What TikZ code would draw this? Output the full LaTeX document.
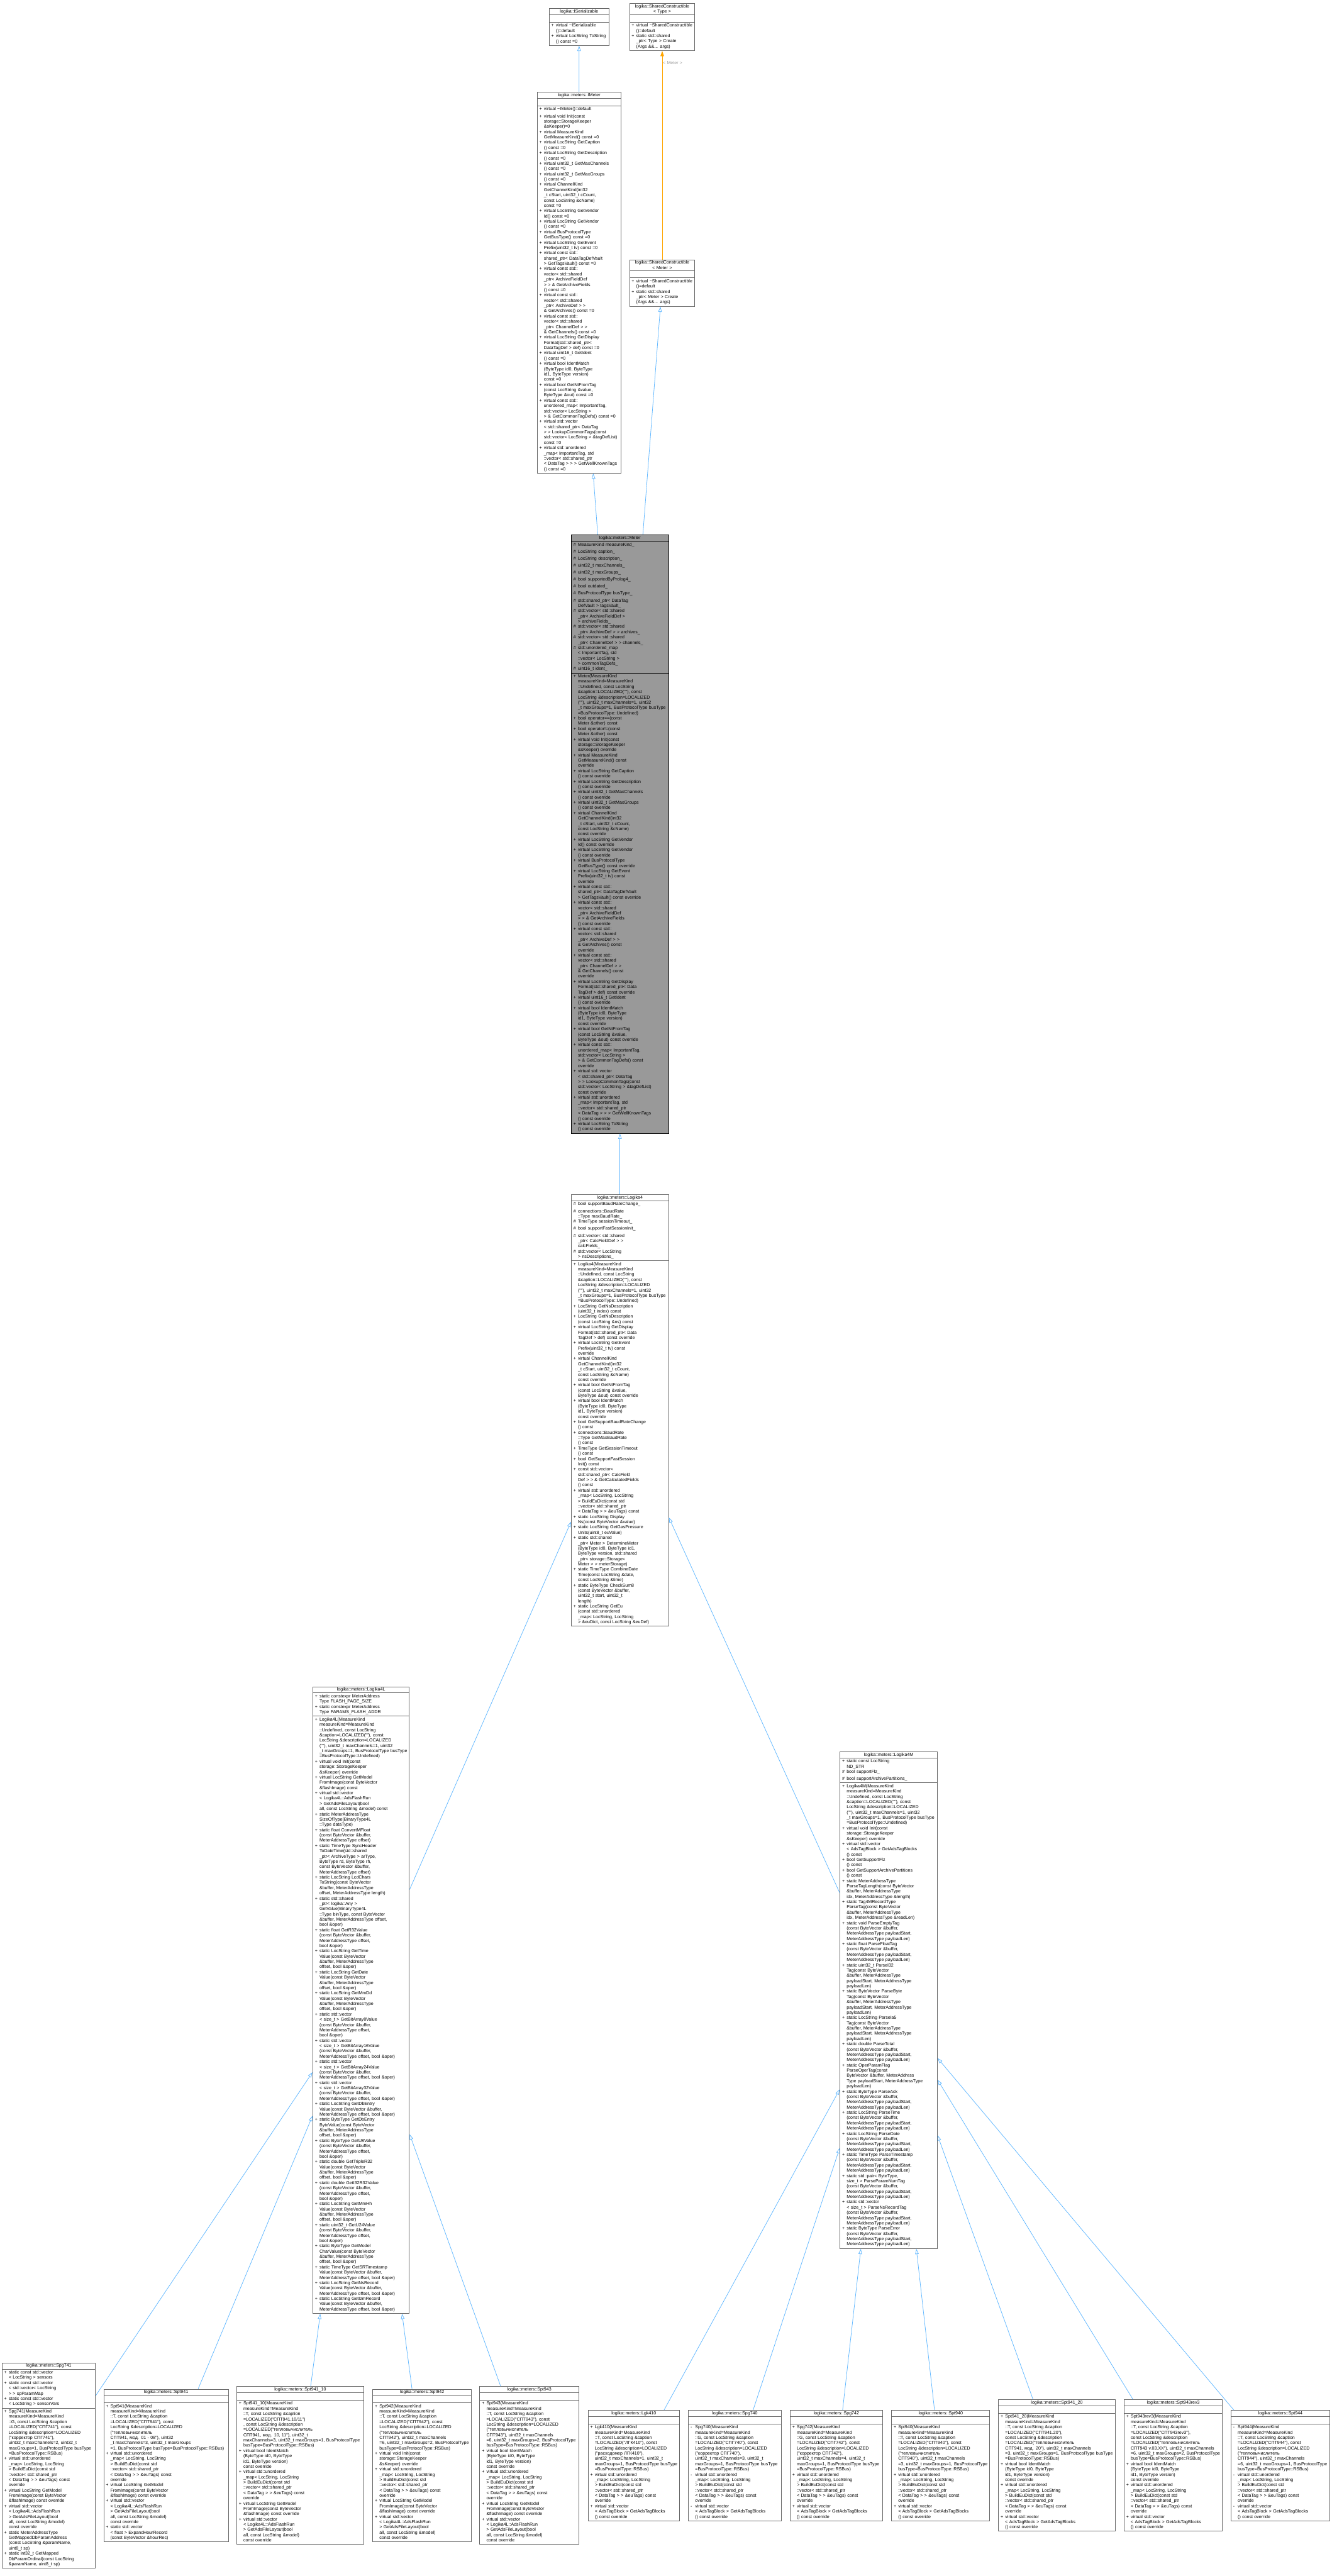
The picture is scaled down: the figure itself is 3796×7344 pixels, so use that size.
\documentclass[tikz,border=0pt]{standalone}
\usepackage{fontspec}
\setmainfont{Liberation Sans}[Ligatures=TeXOff]
\usepackage{tikz}
\usetikzlibrary{shapes.multipart,arrows.meta}
\definecolor{edgeblue}{HTML}{63B8FF}
\definecolor{tmplorange}{HTML}{FFA500}
\definecolor{lblgray}{HTML}{9A9A9A}
\definecolor{boxline}{HTML}{666666}
\definecolor{curfill}{HTML}{999999}
\newcommand{\cfont}{\fontsize{3.6}{4.27}\selectfont}
\newcommand{\mlist}[1]{\begin{tabular}{@{}l@{}}#1\end{tabular}}
\newcommand{\mbr}[2]{\makebox[3.7pt][l]{#1}\begin{tabular}[t]{@{}l@{}}#2\end{tabular}}
\newcommand{\ngap}{\\[1.4pt]}
\newcommand{\baseCtor}[1]{\mbr{+}{#1(MeasureKind\\measureKind=MeasureKind\\::Undefined, const LocString\\\&caption=LOCALIZED(""), const\\LocString \&description=LOCALIZED\\(""), uint32\_t maxChannels=1, uint32\\\_t maxGroups=1, BusProtocolType busType\\=BusProtocolType::Undefined)}}
\newcommand{\initOv}{\mbr{+}{virtual void Init(const\\storage::StorageKeeper\\\&sKeeper) override}}
\newcommand{\identOv}{\mbr{+}{virtual bool IdentMatch\\(ByteType id0, ByteType\\id1, ByteType version)\\const override}}
\newcommand{\chKind}{\mbr{+}{virtual ChannelKind\\GetChannelKind(int32\\\_t cStart, uint32\_t cCount,\\const LocString \&cName)\\const override}}
\newcommand{\evPrefix}{\mbr{+}{virtual LocString GetEvent\\Prefix(uint32\_t tv) const\\override}}
\newcommand{\dispFmt}{\mbr{+}{virtual LocString GetDisplay\\Format(std::shared\_ptr< Data\\TagDef > def) const override}}
\newcommand{\ntTag}{\mbr{+}{virtual bool GetNtFromTag\\(const LocString \&value,\\ByteType \&out) const override}}
\newcommand{\euDict}[1]{\mbr{#1}{virtual std::unordered\\\_map< LocString, LocString\\> BuildEuDict(const std\\::vector< std::shared\_ptr\\< DataTag > > \&euTags) const\\override}}
\newcommand{\modelImg}{\mbr{+}{virtual LocString GetModel\\FromImage(const ByteVector\\\&flashImage) const override}}
\newcommand{\adsLayout}{\mbr{+}{virtual std::vector\\< Logika4L::AdsFlashRun\\> GetAdsFileLayout(bool\\all, const LocString \&model)\\const override}}
\newcommand{\tagBlocks}[1]{\mbr{#1}{virtual std::vector\\< AdsTagBlock > GetAdsTagBlocks\\() const override}}
\newcommand{\obA}{(const ByteVector \&buffer,\\MeterAddressType offset,\\bool \&oper)}
\newcommand{\obB}{(const ByteVector\\\&buffer, MeterAddressType\\offset, bool \&oper)}
\newcommand{\obC}{(const ByteVector \&buffer,\\MeterAddressType offset, bool \&oper)}
\newcommand{\plArgs}{(const ByteVector \&buffer,\\MeterAddressType payloadStart,\\MeterAddressType payloadLen)}
\newcommand{\plTag}{Tag(const ByteVector\\\&buffer, MeterAddressType\\payloadStart, MeterAddressType\\payloadLen)}
\begin{document}
\begin{tikzpicture}[x=0.01cm, y=-0.01cm, font=\cfont,
  cls/.style={rectangle split, rectangle split parts=3, draw=boxline, fill=white,
    line width=0.5pt, text width=#1, inner xsep=0.06cm, inner ysep=0.6pt, anchor=west},
  cur/.style={cls=#1, draw=black, fill=curfill},
  inh/.style={draw=edgeblue, line width=0.4pt, -{Triangle[open, length=4.3pt, width=2.9pt]}},
  tmpl/.style={draw=tmplorange, line width=0.4pt, -{Triangle[length=4.3pt, width=2.9pt]}},
  lbl/.style={text=lblgray, inner sep=0.02cm}]
\useasboundingbox (0,0) rectangle (3796,7344);
\node[cls=1.58cm] (ser) at (1565,77) {\centering logika::ISerializable\par
  \nodepart{two}\strut
  \nodepart{three}\mlist{\mbr{+}{virtual \textasciitilde ISerializable\\()=default}\ngap
    \mbr{+}{virtual LocString ToString\\() const =0}}};
\node[cls=1.74cm] (sct) at (1794,77) {\centering logika::SharedConstructible\\< Type >\par
  \nodepart{two}\strut
  \nodepart{three}\mlist{\mbr{+}{virtual \textasciitilde SharedConstructible\\()=default}\ngap
    \mbr{+}{static std::shared\\\_ptr< Type > Create\\(Args \&\&... args)}}};
\node[cls=2.26cm] (imeter) at (1531,806) {\centering logika::meters::IMeter\par
  \nodepart{two}\strut
  \nodepart{three}\mlist{%
    \mbr{+}{virtual \textasciitilde IMeter()=default}\ngap
    \mbr{+}{virtual void Init(const\\storage::StorageKeeper\\\&sKeeper)=0}\ngap
    \mbr{+}{virtual MeasureKind\\GetMeasureKind() const =0}\ngap
    \mbr{+}{virtual LocString GetCaption\\() const =0}\ngap
    \mbr{+}{virtual LocString GetDescription\\() const =0}\ngap
    \mbr{+}{virtual uint32\_t GetMaxChannels\\() const =0}\ngap
    \mbr{+}{virtual uint32\_t GetMaxGroups\\() const =0}\ngap
    \mbr{+}{virtual ChannelKind\\GetChannelKind(int32\\\_t cStart, uint32\_t cCount,\\const LocString \&cName)\\const =0}\ngap
    \mbr{+}{virtual LocString GetVendor\\Id() const =0}\ngap
    \mbr{+}{virtual LocString GetVendor\\() const =0}\ngap
    \mbr{+}{virtual BusProtocolType\\GetBusType() const =0}\ngap
    \mbr{+}{virtual LocString GetEvent\\Prefix(uint32\_t tv) const =0}\ngap
    \mbr{+}{virtual const std::\\shared\_ptr< DataTagDefVault\\> GetTagsVault() const =0}\ngap
    \mbr{+}{virtual const std::\\vector< std::shared\\\_ptr< ArchiveFieldDef\\> > \& GetArchiveFields\\() const =0}\ngap
    \mbr{+}{virtual const std::\\vector< std::shared\\\_ptr< ArchiveDef > >\\\& GetArchives() const =0}\ngap
    \mbr{+}{virtual const std::\\vector< std::shared\\\_ptr< ChannelDef > >\\\& GetChannels() const =0}\ngap
    \mbr{+}{virtual LocString GetDisplay\\Format(std::shared\_ptr<\\DataTagDef > def) const =0}\ngap
    \mbr{+}{virtual uint16\_t GetIdent\\() const =0}\ngap
    \mbr{+}{virtual bool IdentMatch\\(ByteType id0, ByteType\\id1, ByteType version)\\const =0}\ngap
    \mbr{+}{virtual bool GetNtFromTag\\(const LocString \&value,\\ByteType \&out) const =0}\ngap
    \mbr{+}{virtual const std::\\unordered\_map< ImportantTag,\\std::vector< LocString >\\> \& GetCommonTagDefs() const =0}\ngap
    \mbr{+}{virtual std::vector\\< std::shared\_ptr< DataTag\\> > LookupCommonTags(const\\std::vector< LocString > \&tagDefList)\\const =0}\ngap
    \mbr{+}{virtual std::unordered\\\_map< ImportantTag, std\\::vector< std::shared\_ptr\\< DataTag > > > GetWellKnownTags\\() const =0}}};
\node[cls=1.74cm] (scm) at (1794,807) {\centering logika::SharedConstructible\\< Meter >\par
  \nodepart{two}\strut
  \nodepart{three}\mlist{\mbr{+}{virtual \textasciitilde SharedConstructible\\()=default}\ngap
    \mbr{+}{static std::shared\\\_ptr< Meter > Create\\(Args \&\&... args)}}};
\node[cur=2.65cm] (meter) at (1628,2378) {\centering logika::meters::Meter\par
  \nodepart{two}\mlist{%
    \mbr{\#}{MeasureKind measureKind\_}\ngap
    \mbr{\#}{LocString caption\_}\ngap
    \mbr{\#}{LocString description\_}\ngap
    \mbr{\#}{uint32\_t maxChannels\_}\ngap
    \mbr{\#}{uint32\_t maxGroups\_}\ngap
    \mbr{\#}{bool supportedByProlog4\_}\ngap
    \mbr{\#}{bool outdated\_}\ngap
    \mbr{\#}{BusProtocolType busType\_}\ngap
    \mbr{\#}{std::shared\_ptr< DataTag\\DefVault > tagsVault\_}\ngap
    \mbr{\#}{std::vector< std::shared\\\_ptr< ArchiveFieldDef >\\> archiveFields\_}\ngap
    \mbr{\#}{std::vector< std::shared\\\_ptr< ArchiveDef > > archives\_}\ngap
    \mbr{\#}{std::vector< std::shared\\\_ptr< ChannelDef > > channels\_}\ngap
    \mbr{\#}{std::unordered\_map\\< ImportantTag, std\\::vector< LocString >\\> commonTagDefs\_}\ngap
    \mbr{\#}{uint16\_t ident\_}}
  \nodepart{three}\mlist{%
    \baseCtor{Meter}\ngap
    \mbr{+}{bool operator==(const\\Meter \&other) const}\ngap
    \mbr{+}{bool operator!=(const\\Meter \&other) const}\ngap
    \initOv\ngap
    \mbr{+}{virtual MeasureKind\\GetMeasureKind() const\\override}\ngap
    \mbr{+}{virtual LocString GetCaption\\() const override}\ngap
    \mbr{+}{virtual LocString GetDescription\\() const override}\ngap
    \mbr{+}{virtual uint32\_t GetMaxChannels\\() const override}\ngap
    \mbr{+}{virtual uint32\_t GetMaxGroups\\() const override}\ngap
    \chKind\ngap
    \mbr{+}{virtual LocString GetVendor\\Id() const override}\ngap
    \mbr{+}{virtual LocString GetVendor\\() const override}\ngap
    \mbr{+}{virtual BusProtocolType\\GetBusType() const override}\ngap
    \evPrefix\ngap
    \mbr{+}{virtual const std::\\shared\_ptr< DataTagDefVault\\> GetTagsVault() const override}\ngap
    \mbr{+}{virtual const std::\\vector< std::shared\\\_ptr< ArchiveFieldDef\\> > \& GetArchiveFields\\() const override}\ngap
    \mbr{+}{virtual const std::\\vector< std::shared\\\_ptr< ArchiveDef > >\\\& GetArchives() const\\override}\ngap
    \mbr{+}{virtual const std::\\vector< std::shared\\\_ptr< ChannelDef > >\\\& GetChannels() const\\override}\ngap
    \dispFmt\ngap
    \mbr{+}{virtual uint16\_t GetIdent\\() const override}\ngap
    \identOv\ngap
    \ntTag\ngap
    \mbr{+}{virtual const std::\\unordered\_map< ImportantTag,\\std::vector< LocString >\\> \& GetCommonTagDefs() const\\override}\ngap
    \mbr{+}{virtual std::vector\\< std::shared\_ptr< DataTag\\> > LookupCommonTags(const\\std::vector< LocString > \&tagDefList)\\const override}\ngap
    \mbr{+}{virtual std::unordered\\\_map< ImportantTag, std\\::vector< std::shared\_ptr\\< DataTag > > > GetWellKnownTags\\() const override}\ngap
    \mbr{+}{virtual LocString ToString\\() const override}}};
\node[cls=2.65cm] (l4) at (1628,4021) {\centering logika::meters::Logika4\par
  \nodepart{two}\mlist{%
    \mbr{\#}{bool supportBaudRateChange\_}\ngap
    \mbr{\#}{connections::BaudRate\\::Type maxBaudRate\_}\ngap
    \mbr{\#}{TimeType sessionTimeout\_}\ngap
    \mbr{\#}{bool supportFastSessionInit\_}\ngap
    \mbr{\#}{std::vector< std::shared\\\_ptr< CalcFieldDef > >\\calcFields\_}\ngap
    \mbr{\#}{std::vector< LocString\\> nsDescriptions\_}}
  \nodepart{three}\mlist{%
    \baseCtor{Logika4}\ngap
    \mbr{+}{LocString GetNsDescription\\(uint32\_t index) const}\ngap
    \mbr{+}{LocString GetNsDescription\\(const LocString \&ns) const}\ngap
    \dispFmt\ngap
    \evPrefix\ngap
    \chKind\ngap
    \ntTag\ngap
    \identOv\ngap
    \mbr{+}{bool GetSupportBaudRateChange\\() const}\ngap
    \mbr{+}{connections::BaudRate\\::Type GetMaxBaudRate\\() const}\ngap
    \mbr{+}{TimeType GetSessionTimeout\\() const}\ngap
    \mbr{+}{bool GetSupportFastSession\\Init() const}\ngap
    \mbr{+}{const std::vector<\\std::shared\_ptr< CalcField\\Def > > \& GetCalculatedFields\\() const}\ngap
    \mbr{+}{virtual std::unordered\\\_map< LocString, LocString\\> BuildEuDict(const std\\::vector< std::shared\_ptr\\< DataTag > > \&euTags) const}\ngap
    \mbr{+}{static LocString Display\\Ns(const ByteVector \&value)}\ngap
    \mbr{+}{static LocString GetGasPressure\\Units(uint8\_t euValue)}\ngap
    \mbr{+}{static std::shared\\\_ptr< Meter > DetermineMeter\\(ByteType id0, ByteType id1,\\ByteType version, std::shared\\\_ptr< storage::Storage<\\Meter > > meterStorage)}\ngap
    \mbr{+}{static TimeType CombineDate\\Time(const LocString \&date,\\const LocString \&time)}\ngap
    \mbr{+}{static ByteType CheckSum8\\(const ByteVector \&buffer,\\uint32\_t start, uint32\_t\\length)}\ngap
    \mbr{+}{static LocString GetEu\\(const std::unordered\\\_map< LocString, LocString\\> \&euDict, const LocString \&euDef)}}};
\node[cls=2.63cm] (l4l) at (891,5702) {\centering logika::meters::Logika4L\par
  \nodepart{two}\mlist{%
    \mbr{+}{static constexpr MeterAddress\\Type FLASH\_PAGE\_SIZE}\ngap
    \mbr{+}{static constexpr MeterAddress\\Type PARAMS\_FLASH\_ADDR}}
  \nodepart{three}\mlist{%
    \baseCtor{Logika4L}\ngap
    \initOv\ngap
    \mbr{+}{virtual LocString GetModel\\FromImage(const ByteVector\\\&flashImage) const}\ngap
    \mbr{+}{virtual std::vector\\< Logika4L::AdsFlashRun\\> GetAdsFileLayout(bool\\all, const LocString \&model) const}\ngap
    \mbr{+}{static MeterAddressType\\SizeOfType(BinaryType4L\\::Type dataType)}\ngap
    \mbr{+}{static float ConvertMFloat\\(const ByteVector \&buffer,\\MeterAddressType offset)}\ngap
    \mbr{+}{static TimeType SyncHeader\\ToDateTime(std::shared\\\_ptr< ArchiveType > arType,\\ByteType rd, ByteType rh,\\const ByteVector \&buffer,\\MeterAddressType offset)}\ngap
    \mbr{+}{static LocString LcdChars\\ToString(const ByteVector\\\&buffer, MeterAddressType\\offset, MeterAddressType length)}\ngap
    \mbr{+}{static std::shared\\\_ptr< logika::Any >\\GetValue(BinaryType4L\\::Type binType, const ByteVector\\\&buffer, MeterAddressType offset,\\bool \&oper)}\ngap
    \mbr{+}{static float GetR32Value\\\obA}\ngap
    \mbr{+}{static LocString GetTime\\Value\obB}\ngap
    \mbr{+}{static LocString GetDate\\Value\obB}\ngap
    \mbr{+}{static LocString GetMmDd\\Value\obB}\ngap
    \mbr{+}{static std::vector\\< size\_t > GetBitArray8Value\\\obA}\ngap
    \mbr{+}{static std::vector\\< size\_t > GetBitArray16Value\\\obC}\ngap
    \mbr{+}{static std::vector\\< size\_t > GetBitArray24Value\\\obC}\ngap
    \mbr{+}{static std::vector\\< size\_t > GetBitArray32Value\\\obC}\ngap
    \mbr{+}{static LocString GetDbEntry\\Value\obC}\ngap
    \mbr{+}{static ByteType GetDbEntry\\ByteValue\obB}\ngap
    \mbr{+}{static ByteType GetU8Value\\\obA}\ngap
    \mbr{+}{static double GetTripleR32\\Value\obB}\ngap
    \mbr{+}{static double GetI32R32Value\\\obA}\ngap
    \mbr{+}{static LocString GetMmHh\\Value\obB}\ngap
    \mbr{+}{static uint32\_t GetU24Value\\\obA}\ngap
    \mbr{+}{static ByteType GetModel\\CharValue\obB}\ngap
    \mbr{+}{static TimeType GetSRTimestamp\\Value\obC}\ngap
    \mbr{+}{static LocString GetNsRecord\\Value\obC}\ngap
    \mbr{+}{static LocString GetIzmRecord\\Value\obC}}};
\node[cls=2.65cm] (l4m) at (2394,5702) {\centering logika::meters::Logika4M\par
  \nodepart{two}\mlist{%
    \mbr{+}{static const LocString\\ND\_STR}\ngap
    \mbr{\#}{bool supportFlz\_}\ngap
    \mbr{\#}{bool supportArchivePartitions\_}}
  \nodepart{three}\mlist{%
    \baseCtor{Logika4M}\ngap
    \initOv\ngap
    \mbr{+}{virtual std::vector\\< AdsTagBlock > GetAdsTagBlocks\\() const}\ngap
    \mbr{+}{bool GetSupportFlz\\() const}\ngap
    \mbr{+}{bool GetSupportArchivePartitions\\() const}\ngap
    \mbr{+}{static MeterAddressType\\ParseTagLength(const ByteVector\\\&buffer, MeterAddressType\\idx, MeterAddressType \&length)}\ngap
    \mbr{+}{static Tag4MRecordType\\ParseTag(const ByteVector\\\&buffer, MeterAddressType\\idx, MeterAddressType \&readLen)}\ngap
    \mbr{+}{static void ParseEmptyTag\\\plArgs}\ngap
    \mbr{+}{static float ParseFloatTag\\\plArgs}\ngap
    \mbr{+}{static uint32\_t ParseI32\\\plTag}\ngap
    \mbr{+}{static ByteVector ParseByte\\\plTag}\ngap
    \mbr{+}{static LocString ParseIa5\\\plTag}\ngap
    \mbr{+}{static double ParseTotal\\\plArgs}\ngap
    \mbr{+}{static OperParamFlag\\ParseOperTag(const\\ByteVector \&buffer, MeterAddress\\Type payloadStart, MeterAddressType\\payloadLen)}\ngap
    \mbr{+}{static ByteType ParseAck\\\plArgs}\ngap
    \mbr{+}{static LocString ParseTime\\\plArgs}\ngap
    \mbr{+}{static LocString ParseDate\\\plArgs}\ngap
    \mbr{+}{static TimeType ParseTimestamp\\\plArgs}\ngap
    \mbr{+}{static std::pair< ByteType,\\size\_t > ParseParamNumTag\\\plArgs}\ngap
    \mbr{+}{static std::vector\\< size\_t > ParseNsRecordTag\\\plArgs}\ngap
    \mbr{+}{static ByteType ParseError\\\plArgs}}};
\node[cls=2.54cm] (spg741) at (5,7029) {\centering logika::meters::Spg741\par
  \nodepart{two}\mlist{%
    \mbr{+}{static const std::vector\\< LocString > sensors}\ngap
    \mbr{+}{static const std::vector\\< std::vector< LocString\\> > spParamMap}\ngap
    \mbr{+}{static const std::vector\\< LocString > sensorVars}}
  \nodepart{three}\mlist{%
    \mbr{+}{Spg741(MeasureKind\\measureKind=MeasureKind\\::G, const LocString \&caption\\=LOCALIZED("СПГ741"), const\\LocString \&description=LOCALIZED\\("корректор СПГ741"),\\uint32\_t maxChannels=2, uint32\_t\\maxGroups=1, BusProtocolType busType\\=BusProtocolType::RSBus)}\ngap
    \euDict{+}\ngap
    \modelImg\ngap
    \adsLayout\ngap
    \mbr{+}{static MeterAddressType\\GetMappedDbParamAddress\\(const LocString \&paramName,\\uint8\_t sp)}\ngap
    \mbr{+}{static int32\_t GetMapped\\DbParamOrdinal(const LocString\\\&paramName, uint8\_t sp)}}};
\node[cls=3.43cm] (spt941) at (295,7029) {\centering logika::meters::Spt941\par
  \nodepart{two}\strut
  \nodepart{three}\mlist{%
    \mbr{+}{Spt941(MeasureKind\\measureKind=MeasureKind\\::T, const LocString \&caption\\=LOCALIZED("СПТ941"), const\\LocString \&description=LOCALIZED\\("тепловычислитель\\СПТ941, мод. 01 - 08"), uint32\\\_t maxChannels=3, uint32\_t maxGroups\\=1, BusProtocolType busType=BusProtocolType::RSBus)}\ngap
    \euDict{+}\ngap
    \modelImg\ngap
    \adsLayout\ngap
    \mbr{+}{static std::vector\\< float > ExpandHourRecord\\(const ByteVector \&hourRec)}}};
\node[cls=3.50cm] (spt94110) at (674,7029) {\centering logika::meters::Spt941\_10\par
  \nodepart{two}\strut
  \nodepart{three}\mlist{%
    \mbr{+}{Spt941\_10(MeasureKind\\measureKind=MeasureKind\\::T, const LocString \&caption\\=LOCALIZED("СПТ941.10/11")\\, const LocString \&description\\=LOCALIZED("тепловычислитель\\СПТ941, мод. 10, 11"), uint32\_t\\maxChannels=3, uint32\_t maxGroups=1, BusProtocolType\\busType=BusProtocolType::RSBus)}\ngap
    \identOv\ngap
    \euDict{+}\ngap
    \modelImg\ngap
    \adsLayout}};
\node[cls=2.69cm] (spt942) at (1062,7029) {\centering logika::meters::Spt942\par
  \nodepart{two}\strut
  \nodepart{three}\mlist{%
    \mbr{+}{Spt942(MeasureKind\\measureKind=MeasureKind\\::T, const LocString \&caption\\=LOCALIZED("СПТ942"), const\\LocString \&description=LOCALIZED\\("тепловычислитель\\СПТ942"), uint32\_t maxChannels\\=6, uint32\_t maxGroups=2, BusProtocolType\\busType=BusProtocolType::RSBus)}\ngap
    \initOv\ngap
    \euDict{+}\ngap
    \modelImg\ngap
    \adsLayout}};
\node[cls=2.70cm] (spt943) at (1367,7029) {\centering logika::meters::Spt943\par
  \nodepart{two}\strut
  \nodepart{three}\mlist{%
    \mbr{+}{Spt943(MeasureKind\\measureKind=MeasureKind\\::T, const LocString \&caption\\=LOCALIZED("СПТ943"), const\\LocString \&description=LOCALIZED\\("тепловычислитель\\СПТ943"), uint32\_t maxChannels\\=6, uint32\_t maxGroups=2, BusProtocolType\\busType=BusProtocolType::RSBus)}\ngap
    \identOv\ngap
    \euDict{+}\ngap
    \modelImg\ngap
    \adsLayout}};
\node[cls=2.48cm] (lgk410) at (1676,7029) {\centering logika::meters::Lgk410\par
  \nodepart{two}\strut
  \nodepart{three}\mlist{%
    \mbr{+}{Lgk410(MeasureKind\\measureKind=MeasureKind\\::T, const LocString \&caption\\=LOCALIZED("ЛГК410"), const\\LocString \&description=LOCALIZED\\("расходомер ЛГК410"),\\uint32\_t maxChannels=1, uint32\_t\\maxGroups=1, BusProtocolType busType\\=BusProtocolType::RSBus)}\ngap
    \euDict{+}\ngap
    \tagBlocks{+}}};
\node[cls=2.52cm] (spg740) at (1962,7029) {\centering logika::meters::Spg740\par
  \nodepart{two}\strut
  \nodepart{three}\mlist{%
    \mbr{-}{Spg740(MeasureKind\\measureKind=MeasureKind\\::G, const LocString \&caption\\=LOCALIZED("СПГ740"), const\\LocString \&description=LOCALIZED\\("корректор СПГ740"),\\uint32\_t maxChannels=3, uint32\_t\\maxGroups=1, BusProtocolType busType\\=BusProtocolType::RSBus)}\ngap
    \euDict{-}\ngap
    \tagBlocks{-}}};
\node[cls=2.51cm] (spg742) at (2252,7029) {\centering logika::meters::Spg742\par
  \nodepart{two}\strut
  \nodepart{three}\mlist{%
    \mbr{+}{Spg742(MeasureKind\\measureKind=MeasureKind\\::G, const LocString \&caption\\=LOCALIZED("СПГ742"), const\\LocString \&description=LOCALIZED\\("корректор СПГ742"),\\uint32\_t maxChannels=4, uint32\_t\\maxGroups=1, BusProtocolType busType\\=BusProtocolType::RSBus)}\ngap
    \euDict{+}\ngap
    \tagBlocks{+}}};
\node[cls=2.68cm] (spt940) at (2541,7029) {\centering logika::meters::Spt940\par
  \nodepart{two}\strut
  \nodepart{three}\mlist{%
    \mbr{+}{Spt940(MeasureKind\\measureKind=MeasureKind\\::T, const LocString \&caption\\=LOCALIZED("СПТ940"), const\\LocString \&description=LOCALIZED\\("тепловычислитель\\СПТ940"), uint32\_t maxChannels\\=3, uint32\_t maxGroups=1, BusProtocolType\\busType=BusProtocolType::RSBus)}\ngap
    \euDict{+}\ngap
    \tagBlocks{+}}};
\node[cls=3.20cm] (spt94120) at (2846,7029) {\centering logika::meters::Spt941\_20\par
  \nodepart{two}\strut
  \nodepart{three}\mlist{%
    \mbr{+}{Spt941\_20(MeasureKind\\measureKind=MeasureKind\\::T, const LocString \&caption\\=LOCALIZED("СПТ941.20"),\\const LocString \&description\\=LOCALIZED("тепловычислитель\\СПТ941, мод. 20"), uint32\_t maxChannels\\=3, uint32\_t maxGroups=1, BusProtocolType busType\\=BusProtocolType::RSBus)}\ngap
    \identOv\ngap
    \euDict{+}\ngap
    \tagBlocks{+}}};
\node[cls=2.68cm] (spt943r3) at (3204,7029) {\centering logika::meters::Spt943rev3\par
  \nodepart{two}\strut
  \nodepart{three}\mlist{%
    \mbr{+}{Spt943rev3(MeasureKind\\measureKind=MeasureKind\\::T, const LocString \&caption\\=LOCALIZED("СПТ943rev3"),\\const LocString \&description\\=LOCALIZED("тепловычислитель\\СПТ943 v.03.XX"), uint32\_t maxChannels\\=6, uint32\_t maxGroups=2, BusProtocolType\\busType=BusProtocolType::RSBus)}\ngap
    \identOv\ngap
    \euDict{+}\ngap
    \tagBlocks{+}}};
\node[cls=2.69cm] (spt944) at (3509,7029) {\centering logika::meters::Spt944\par
  \nodepart{two}\strut
  \nodepart{three}\mlist{%
    \mbr{-}{Spt944(MeasureKind\\measureKind=MeasureKind\\::T, const LocString \&caption\\=LOCALIZED("СПТ944"), const\\LocString \&description=LOCALIZED\\("тепловычислитель\\СПТ944"), uint32\_t maxChannels\\=6, uint32\_t maxGroups=1, BusProtocolType\\busType=BusProtocolType::RSBus)}\ngap
    \euDict{-}\ngap
    \tagBlocks{-}}};
\draw[inh] (imeter) -- (ser);
\draw[tmpl] (scm) -- node[lbl, pos=0.944, right] {< Meter >} (sct);
\draw[inh] (meter) -- (imeter);
\draw[inh] (meter) -- (scm);
\draw[inh] (l4) -- (meter);
\draw[inh] (l4l) -- (l4);
\draw[inh] (l4m) -- (l4);
\foreach \kid in {spg741, spt941, spt94110, spt942, spt943}
  \draw[inh] (\kid) -- (l4l);
\foreach \kid in {lgk410, spg740, spg742, spt940, spt94120, spt943r3, spt944}
  \draw[inh] (\kid) -- (l4m);
\end{tikzpicture}
\end{document}
